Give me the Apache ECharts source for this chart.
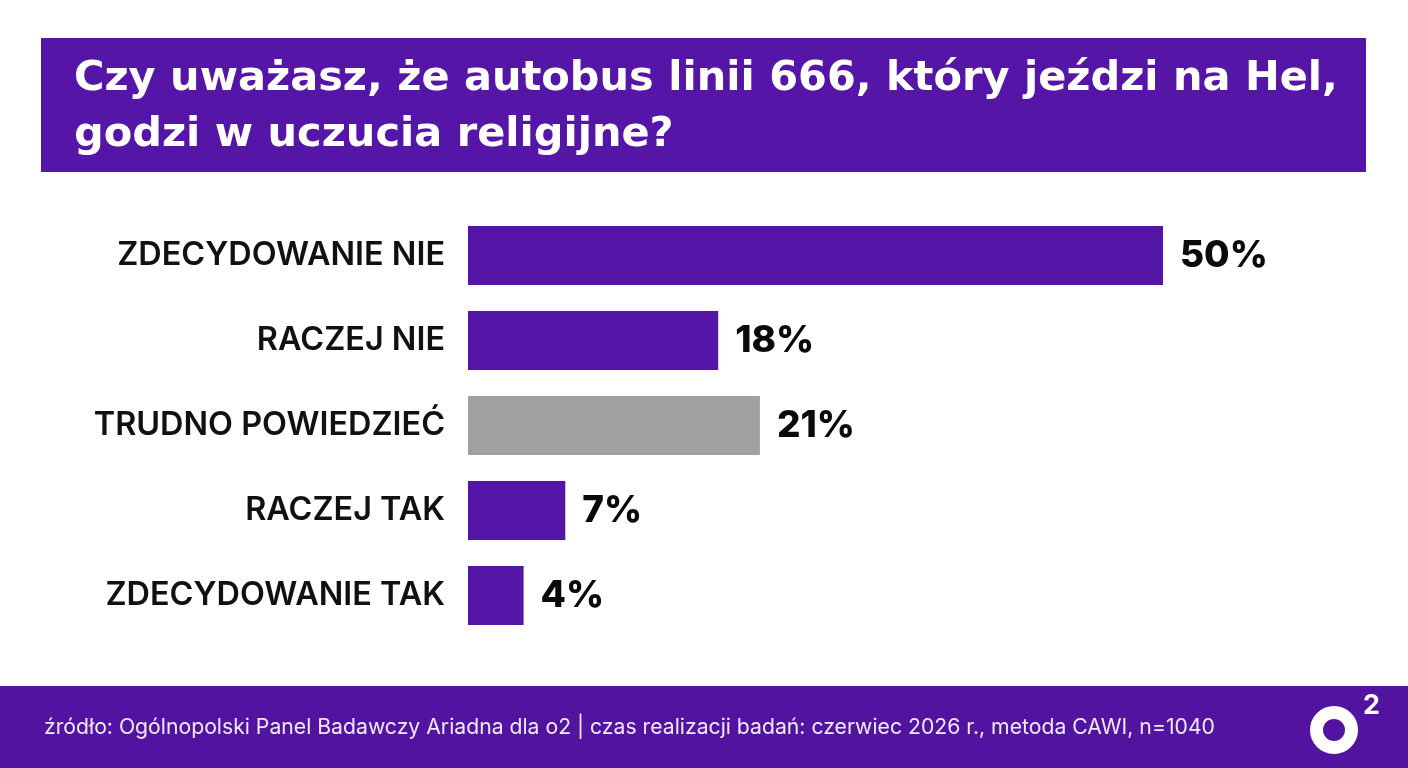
<!DOCTYPE html>
<html>
<head>
<meta charset="utf-8">
<script src="https://cdn.jsdelivr.net/npm/echarts@6/dist/echarts.min.js"></script>
<style>
html,body{margin:0;padding:0;background:#fff;}
#chart{width:1408px;height:768px;}
</style>
</head>
<body>
<div id="chart"></div>
<script>
const titleLines = ['Czy uważasz, że autobus linii 666, który jeździ na Hel,', 'godzi w uczucia religijne?'];
const categories = ['ZDECYDOWANIE NIE', 'RACZEJ NIE', 'TRUDNO POWIEDZIEĆ', 'RACZEJ TAK', 'ZDECYDOWANIE TAK'];
const values = [50, 18, 21, 7, 4];
const neutralCategory = 'TRUDNO POWIEDZIEĆ';
const footerText = 'źródło: Ogólnopolski Panel Badawczy Ariadna dla o2 | czas realizacji badań: czerwiec 2026 r., metoda CAWI, n=1040';

const PURPLE = '#5515a6';
const GREY = '#a0a0a0';

const chart = echarts.init(document.getElementById('chart'), null, {renderer: 'canvas'});
chart.setOption({
  backgroundColor: '#ffffff',
  animation: false,
  title: {
    text: titleLines.join('\n'),
    left: 69,
    top: 46,
    textStyle: {
      color: '#ffffff',
      fontFamily: 'DejaVu Sans',
      fontWeight: 700,
      fontSize: 41.5,
      lineHeight: 56
    }
  },
  graphic: [
    {type: 'rect', z: -1, shape: {x: 41, y: 38, width: 1325, height: 134}, style: {fill: PURPLE}},
    {type: 'rect', z: -1, shape: {x: 0, y: 686, width: 1408, height: 82}, style: {fill: '#5214a0'}},
    {type: 'text', x: 44, y: 728, style: {text: footerText, fill: '#f1e9ff', font: '400 21.2px Inter', textVerticalAlign: 'middle'}},
    {type: 'circle', shape: {cx: 1334, cy: 730, r: 17.5}, style: {fill: 'none', stroke: '#ffffff', lineWidth: 13}},
    {type: 'text', x: 1363, y: 706, style: {text: '2', fill: '#ffffff', font: '700 27px Inter', textVerticalAlign: 'middle'}}
  ],
  grid: {left: 468, right: 245, top: 213, height: 425},
  xAxis: {
    type: 'value', min: 0, max: 50, show: false,
    splitLine: {show: false}
  },
  yAxis: {
    type: 'category',
    data: categories,
    inverse: true,
    axisLine: {show: false},
    axisTick: {show: false},
    axisLabel: {
      margin: 23,
      color: '#111111',
      fontFamily: 'Inter',
      fontWeight: 600,
      fontSize: 32.4
    }
  },
  series: [{
    type: 'bar',
    data: values,
    barWidth: 59,
    itemStyle: {
      color: function (p) { return p.name === neutralCategory ? GREY : PURPLE; }
    },
    label: {
      show: true,
      position: 'right',
      distance: 17,
      formatter: '{c}%',
      color: '#0a0a0a',
      fontFamily: 'Inter',
      fontWeight: 800,
      fontSize: 37
    }
  }]
});
</script>
</body>
</html>
